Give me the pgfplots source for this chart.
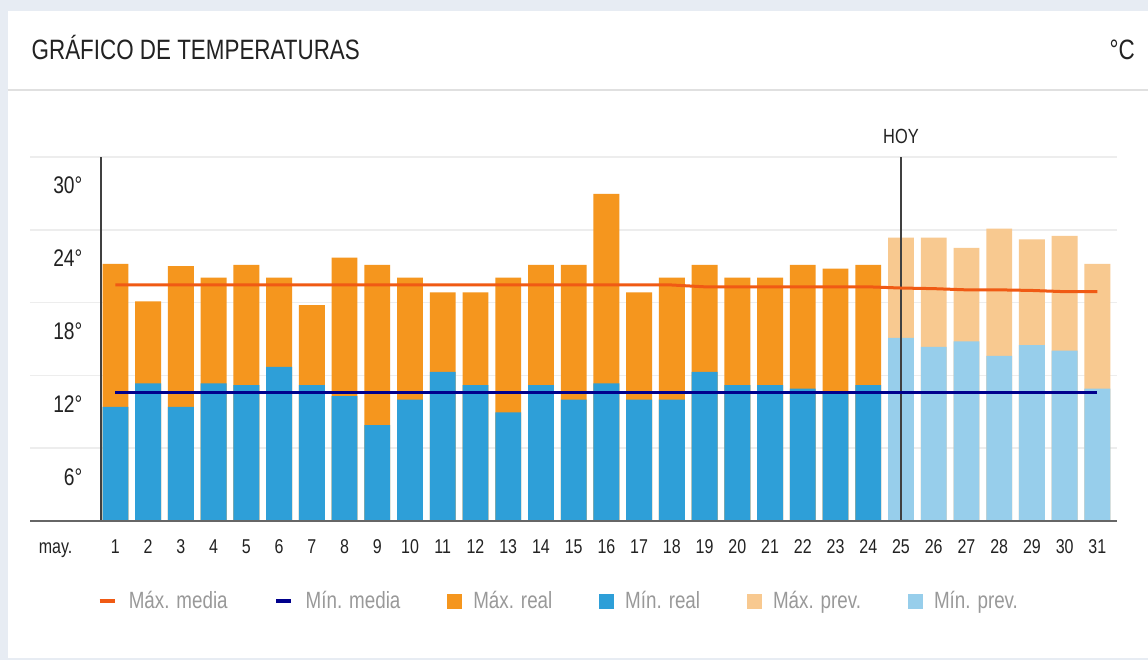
\documentclass[border=0pt]{standalone}
\usepackage{fontspec}
\setmainfont{Liberation Sans}[FakeStretch=0.8]
\usepackage{pgfplots}
\pgfplotsset{compat=1.18}
\definecolor{maxreal}{HTML}{F5961E}
\definecolor{minreal}{HTML}{2E9FD8}
\definecolor{maxprev}{HTML}{F8C990}
\definecolor{minprev}{HTML}{97CEEB}
\definecolor{maxmed}{HTML}{F05A14}
\definecolor{minmed}{HTML}{00008C}
\definecolor{bgout}{HTML}{E7ECF3}
\definecolor{gridc}{HTML}{EDEDED}
\definecolor{txt}{HTML}{222222}
\definecolor{legtxt}{HTML}{999999}
\begin{document}
\begin{tikzpicture}
\fill[bgout] (0pt,0pt) rectangle (1148pt,660pt);
\fill[white] (7.5pt,2pt) rectangle (1148pt,649pt);
\draw[color=black!12, line width=1.5pt] (7.5pt,570pt) -- (1148pt,570pt);
\node[anchor=base west, inner sep=0pt, text=txt, font=\fontsize{28}{32}\selectfont] at (31.5pt,600pt) {GRÁFICO DE TEMPERATURAS};
\node[anchor=base east, inner sep=0pt, text=txt, font=\fontsize{28}{32}\selectfont] at (1135pt,600pt) {°C};
\begin{axis}[
  at={(30pt,139pt)}, anchor=south west,
  scale only axis, width=1086.7pt, height=364pt,
  xmin=-1.61, xmax=31.59, ymin=0, ymax=30,
  clip=false,
  axis x line*=bottom, axis y line*=left,
  axis line style={draw=none},
  major tick length=0pt,
  ytick={6,12,18,24,30},
  yticklabels={6°,12°,18°,24°,30°},
  yticklabel style={anchor=base east, inner sep=0pt, xshift=52.5pt, yshift=-37pt, font=\fontsize{24}{28}\selectfont, text=txt},
  xtick={-0.83,1,2,3,4,5,6,7,8,9,10,11,12,13,14,15,16,17,18,19,20,21,22,23,24,25,26,27,28,29,30,31},
  xticklabels={may.,1,2,3,4,5,6,7,8,9,10,11,12,13,14,15,16,17,18,19,20,21,22,23,24,25,26,27,28,29,30,31},
  xticklabel style={anchor=base, inner sep=0pt, yshift=-33pt, font=\fontsize{20}{24}\selectfont, text=txt},
  ymajorgrids, major grid style={gridc, line width=1.5pt},
  legend columns=6,
  legend cell align=left,
  legend style={at={(0.0617,-0.2198)}, anchor=west, draw=none, fill=none, inner sep=0pt,
    font=\fontsize{23.5}{28}\selectfont, text=legtxt,
    /tikz/every odd column/.append style={column sep=10pt},
    /tikz/every even column/.append style={column sep=44.5pt}},
]
\addlegendimage{legend image code/.code={\draw[maxmed, line width=4.5pt] (0pt,0pt) -- (15pt,0pt);}}
\addlegendentry{Máx. media}
\addlegendimage{legend image code/.code={\draw[minmed, line width=4.5pt] (0pt,0pt) -- (15pt,0pt);}}
\addlegendentry{Mín. media}
\addlegendimage{legend image code/.code={\fill[maxreal] (0pt,-7pt) rectangle (14pt,7pt);}}
\addlegendentry{Máx. real}
\addlegendimage{legend image code/.code={\fill[minreal] (0pt,-7pt) rectangle (14pt,7pt);}}
\addlegendentry{Mín. real}
\addlegendimage{legend image code/.code={\fill[maxprev] (0pt,-7pt) rectangle (14pt,7pt);}}
\addlegendentry{Máx. prev.}
\addlegendimage{legend image code/.code={\fill[minprev] (0pt,-7pt) rectangle (14pt,7pt);}}
\addlegendentry{Mín. prev.}
% real max
\addplot[ybar, bar width=0.79, bar shift=0pt, fill=maxreal, draw=none, forget plot] coordinates {
(1,21.2) (2,18.1) (3,21.0) (4,20.05) (5,21.1) (6,20.05) (7,17.8) (8,21.7) (9,21.1) (10,20.05)
(11,18.85) (12,18.85) (13,20.05) (14,21.1) (15,21.1) (16,26.95) (17,18.85) (18,20.05) (19,21.1) (20,20.05)
(21,20.05) (22,21.1) (23,20.8) (24,21.1)};
% real min
\addplot[ybar, bar width=0.79, bar shift=0pt, fill=minreal, draw=none, forget plot] coordinates {
(1,9.4) (2,11.35) (3,9.4) (4,11.35) (5,11.2) (6,12.7) (7,11.2) (8,10.3) (9,7.9) (10,10.0)
(11,12.3) (12,11.2) (13,8.95) (14,11.2) (15,10.0) (16,11.35) (17,10.0) (18,10.0) (19,12.3) (20,11.2)
(21,11.2) (22,10.9) (23,10.7) (24,11.2)};
% forecast max
\addplot[ybar, bar width=0.79, bar shift=0pt, fill=maxprev, draw=none, forget plot] coordinates {
(25,23.35) (26,23.35) (27,22.5) (28,24.1) (29,23.2) (30,23.5) (31,21.2)};
% forecast min
\addplot[ybar, bar width=0.79, bar shift=0pt, fill=minprev, draw=none, forget plot] coordinates {
(25,15.1) (26,14.35) (27,14.8) (28,13.6) (29,14.5) (30,14.05) (31,10.9)};
\draw[color=black!75, line width=1.5pt] (axis cs:0.557,0) -- (axis cs:0.557,30);
\draw[color=black!75, line width=1.5pt] (axis cs:25,0) -- (axis cs:25,30);
\node[anchor=base, inner sep=0pt, text=txt, font=\fontsize{20.5}{24}\selectfont] at (axis cs:25,30) [yshift=13.7pt] {HOY};
% mean max
\addplot[maxmed, line width=3pt, forget plot] coordinates {
(1,19.45) (2,19.45) (3,19.45) (4,19.45) (5,19.45) (6,19.45) (7,19.45) (8,19.45) (9,19.45) (10,19.45)
(11,19.45) (12,19.45) (13,19.45) (14,19.45) (15,19.45) (16,19.45) (17,19.45) (18,19.45) (19,19.3) (20,19.3)
(21,19.3) (22,19.3) (23,19.3) (24,19.3) (25,19.2) (26,19.15) (27,19.05) (28,19.05) (29,19.0) (30,18.9) (31,18.9)};
% mean min
\addplot[minmed, line width=3pt, forget plot] coordinates {
(1,10.6) (2,10.6) (3,10.6) (4,10.6) (5,10.6) (6,10.6) (7,10.6) (8,10.6) (9,10.6) (10,10.6)
(11,10.6) (12,10.6) (13,10.6) (14,10.6) (15,10.6) (16,10.6) (17,10.6) (18,10.6) (19,10.6) (20,10.6)
(21,10.6) (22,10.6) (23,10.6) (24,10.6) (25,10.6) (26,10.6) (27,10.6) (28,10.6) (29,10.6) (30,10.6) (31,10.6)};
\draw[color=black!60, line width=2.5pt] (axis cs:-1.61,0) -- (axis cs:31.59,0);
\end{axis}
\pgfresetboundingbox
\useasboundingbox (0pt,0pt) rectangle (1148pt,660pt);
\end{tikzpicture}
\end{document}
